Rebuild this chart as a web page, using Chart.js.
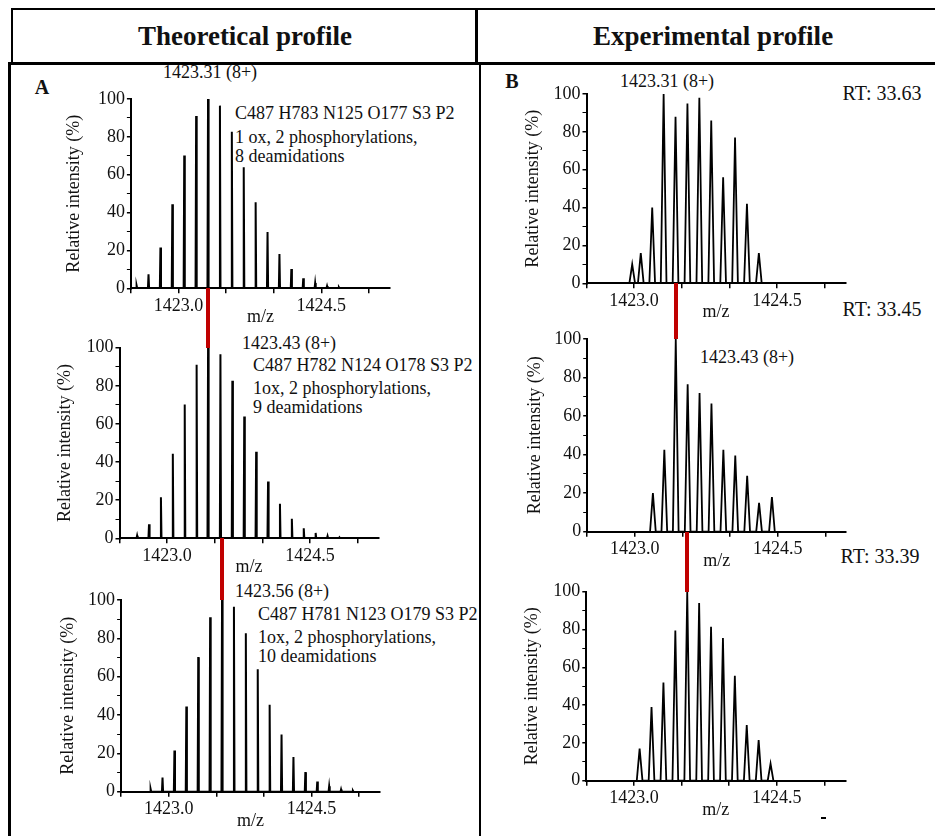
<!DOCTYPE html>
<html>
<head>
<meta charset="utf-8">
<script src="https://cdn.jsdelivr.net/npm/chart.js@4.4.0/dist/chart.umd.min.js"></script>
<style>
  body { margin: 0; width: 935px; height: 836px; background: #fff; position: relative; overflow: hidden;
         font-family: "Liberation Serif", "Times New Roman", serif; color: #111; }
  .rule { position: absolute; background: #000; }
  .txt { position: absolute; white-space: nowrap; line-height: 1; font-size: 18px; transform: translateY(-50%); }
  .ctr { transform: translate(-50%, -50%); }
  .head { font-size: 27px; font-weight: bold; }
  .tag { font-size: 20px; font-weight: bold; }
  .rt { font-size: 20px; }
  canvas { position: absolute; }
</style>
</head>
<body>

<!-- table frame -->
<div class="rule" style="left:12px; top:8px; width:923px; height:2px;"></div>
<div class="rule" style="left:11px; top:8px; width:2px; height:56px;"></div>
<div class="rule" style="left:475px; top:8px; width:3px; height:56px;"></div>
<div class="rule" style="left:8px; top:62px; width:927px; height:3px;"></div>
<div class="rule" style="left:8px; top:62px; width:3px; height:774px;"></div>
<div class="rule" style="left:479px; top:62px; width:2px; height:774px;"></div>
<div class="rule" style="left:821px; top:817px; width:5px; height:2px;"></div>

<div class="txt ctr head" style="left:245px; top:36px;">Theoretical profile</div>
<div class="txt ctr head" style="left:713px; top:36px;">Experimental profile</div>

<div class="txt ctr tag" style="left:42px; top:87px;">A</div>
<div class="txt ctr tag" style="left:512px; top:81px;">B</div>

<!-- theoretical annotations -->
<div class="txt ctr" style="left:210px; top:72px;">1423.31 (8+)</div>
<div class="txt" style="left:235px; top:113px;">C487 H783 N125 O177 S3 P2</div>
<div class="txt" style="left:235px; top:137px;">1 ox, 2 phosphorylations,</div>
<div class="txt" style="left:235px; top:156px;">8 deamidations</div>

<div class="txt ctr" style="left:289px; top:343px;">1423.43 (8+)</div>
<div class="txt" style="left:253px; top:365px;">C487 H782 N124 O178 S3 P2</div>
<div class="txt" style="left:253px; top:388px;">1ox, 2 phosphorylations,</div>
<div class="txt" style="left:253px; top:407px;">9 deamidations</div>

<div class="txt ctr" style="left:282px; top:591px;">1423.56 (8+)</div>
<div class="txt" style="left:258px; top:614px;">C487 H781 N123 O179 S3 P2</div>
<div class="txt" style="left:258px; top:637px;">1ox, 2 phosphorylations,</div>
<div class="txt" style="left:258px; top:656px;">10 deamidations</div>

<!-- experimental annotations -->
<div class="txt ctr" style="left:667px; top:81px;">1423.31 (8+)</div>
<div class="txt ctr rt" style="left:882px; top:93px;">RT: 33.63</div>
<div class="txt ctr rt" style="left:882px; top:309px;">RT: 33.45</div>
<div class="txt ctr" style="left:747px; top:357px;">1423.43 (8+)</div>
<div class="txt ctr rt" style="left:880px; top:556px;">RT: 33.39</div>

<script>
// m/z axis
const xMin = 1422.5;
const xMax = 1425.22;
const xStep = 0.5;
const xTickValues = [1423.0, 1424.5];
const xTickLabels = ['1423.0', '1424.5'];

// intensity axis
const yMax = 100;
const yStep = 10;
const yLabelEvery = 20;

// theoretical isotope envelopes (A)
const theoMzTop = [1422.56, 1422.685, 1422.81, 1422.935, 1423.06, 1423.185, 1423.31, 1423.435, 1423.56,
                   1423.685, 1423.81, 1423.935, 1424.06, 1424.185, 1424.31, 1424.435, 1424.56, 1424.685];
const theoMzMid = [1422.685, 1422.81, 1422.935, 1423.06, 1423.185, 1423.31, 1423.43, 1423.56, 1423.685,
                   1423.81, 1423.935, 1424.06, 1424.185, 1424.31, 1424.435, 1424.56, 1424.685, 1424.81];
const theoMzBot = [1422.81, 1422.935, 1423.06, 1423.185, 1423.31, 1423.435, 1423.56, 1423.685, 1423.81,
                   1423.935, 1424.06, 1424.185, 1424.31, 1424.435, 1424.56, 1424.685, 1424.81, 1424.935];
const theoIntensity = [1.4, 7.4, 21.5, 44.4, 70.2, 91, 100, 96.5, 82.7, 63.9, 45.4, 29.8, 18.1, 10.2, 5.3, 2.8, 1.2, 0.5];

// experimental spectra (B)
const expMzTop = [1422.98, 1423.07, 1423.19, 1423.31, 1423.435, 1423.56, 1423.685, 1423.81, 1423.935, 1424.06, 1424.185, 1424.31];
const expIntTop = [10, 16, 40, 100, 88, 95, 98, 86, 56, 77, 42, 16];
const expMzMid = [1423.19, 1423.31, 1423.43, 1423.555, 1423.68, 1423.805, 1423.93, 1424.055, 1424.18, 1424.305, 1424.44];
const expIntMid = [20, 42.5, 100, 76.5, 72, 66.5, 42.5, 39.5, 29, 15, 18];
const expMzBot = [1423.06, 1423.185, 1423.31, 1423.435, 1423.56, 1423.685, 1423.81, 1423.935, 1424.06, 1424.185, 1424.31, 1424.435];
const expIntBot = [17, 39, 52, 79.5, 100, 94, 81.5, 75.5, 55.5, 29.5, 21.5, 9];

// base peaks joined by the red markers
const basePeaks = [1423.31, 1423.43, 1423.56];

Chart.defaults.font.family = '"Liberation Serif", "Times New Roman", serif';
Chart.defaults.font.size = 18;
Chart.defaults.color = '#111';

const plotWidth = 259;
const xAxisHeight = 40;

// page placement of each small spectrum
const panels = [
  { mz: theoMzTop, inten: theoIntensity, theo: true,  plotLeft: 130.9, plotTop: 99,    plotBottom: 288.3, titleX: 74 },
  { mz: theoMzMid, inten: theoIntensity, theo: true,  plotLeft: 119.5, plotTop: 347.7, plotBottom: 538.3, titleX: 65 },
  { mz: theoMzBot, inten: theoIntensity, theo: true,  plotLeft: 121.1, plotTop: 600,   plotBottom: 791.7, titleX: 67.5 },
  { mz: expMzTop,  inten: expIntTop,     theo: false, plotLeft: 586.5, plotTop: 94,    plotBottom: 283.3, titleX: 532.5 },
  { mz: expMzMid,  inten: expIntMid,     theo: false, plotLeft: 587.2, plotTop: 339,   plotBottom: 531.7, titleX: 535 },
  { mz: expMzBot,  inten: expIntBot,     theo: false, plotLeft: 586.3, plotTop: 591.7, plotBottom: 780.7, titleX: 531.5 }
];

// turn centroid peaks into a profile trace
function profile(mz, inten, halfWidth) {
  const pts = [];
  mz.forEach((m, i) => {
    pts.push({ x: m - halfWidth, y: 0 }, { x: m, y: inten[i] }, { x: m + halfWidth, y: 0 });
  });
  return pts;
}

function makeChart(p) {
  const left = Math.round(p.titleX - 10.8);
  const top = Math.round(p.plotTop - 14);
  const yw = p.plotLeft - left;
  const w = Math.ceil(yw + plotWidth + 6);
  const h = Math.ceil(p.plotBottom - top + xAxisHeight + 2);

  const cv = document.createElement('canvas');
  cv.width = w;
  cv.height = h;
  cv.style.left = left + 'px';
  cv.style.top = top + 'px';
  cv.style.width = w + 'px';
  cv.style.height = h + 'px';
  document.body.appendChild(cv);

  const chart = new Chart(cv.getContext('2d'), {
    type: 'line',
    data: {
      datasets: [{
        data: profile(p.mz, p.inten, p.theo ? 0.006 : 0.03),
        borderColor: '#000',
        borderWidth: p.theo ? 2 : 1.8,
        pointRadius: 0,
        tension: 0,
        fill: false
      }]
    },
    options: {
      responsive: false,
      animation: false,
      devicePixelRatio: 1,
      layout: {
        padding: {
          left: 0,
          top: p.plotTop - top,
          right: w - yw - plotWidth,
          bottom: h - (p.plotBottom - top) - xAxisHeight
        }
      },
      plugins: {
        legend: { display: false },
        tooltip: { enabled: false }
      },
      scales: {
        x: {
          type: 'linear',
          min: xMin,
          max: xMax,
          afterFit: s => { s.height = xAxisHeight; },
          border: { display: true, color: '#000', width: 2 },
          grid: { drawOnChartArea: false, drawTicks: true, tickLength: 5, color: '#000', lineWidth: 1.5 },
          ticks: {
            stepSize: xStep,
            autoSkip: false,
            maxRotation: 0,
            includeBounds: false,
            padding: 2,
            callback: v => {
              const i = xTickValues.findIndex(t => Math.abs(t - v) < 1e-6);
              return i >= 0 ? xTickLabels[i] : '';
            }
          },
          title: { display: true, text: 'm/z', padding: 0 }
        },
        y: {
          min: 0,
          max: yMax,
          afterFit: s => { s.width = yw; },
          border: { display: true, color: '#000', width: 2 },
          grid: {
            drawOnChartArea: false, drawTicks: true, tickLength: 4, color: '#000',
            lineWidth: ctx => (ctx.tick && ctx.tick.value % yLabelEvery === 0 ? 1.5 : 1)
          },
          ticks: {
            stepSize: yStep,
            autoSkip: false,
            padding: 2,
            callback: v => (v % yLabelEvery === 0 ? String(v) : '')
          },
          title: { display: true, text: 'Relative intensity (%)', padding: 0 }
        }
      }
    }
  });
  return { chart, left, top };
}

const charts = panels.map(makeChart);

// red markers linking the base peak of one spectrum to the next
function link(upper, lower, mz) {
  const x = lower.left + lower.chart.scales.x.getPixelForValue(mz);
  const y1 = upper.top + upper.chart.chartArea.bottom;
  const y2 = lower.top + lower.chart.chartArea.top;
  const d = document.createElement('div');
  d.style.cssText = 'position:absolute;background:#c00000;left:' + (x - 2) + 'px;top:' + y1 +
    'px;width:4px;height:' + (y2 - y1) + 'px;';
  document.body.appendChild(d);
}

link(charts[0], charts[1], basePeaks[1]);
link(charts[1], charts[2], basePeaks[2]);
link(charts[3], charts[4], basePeaks[1]);
link(charts[4], charts[5], basePeaks[2]);
</script>
</body>
</html>
